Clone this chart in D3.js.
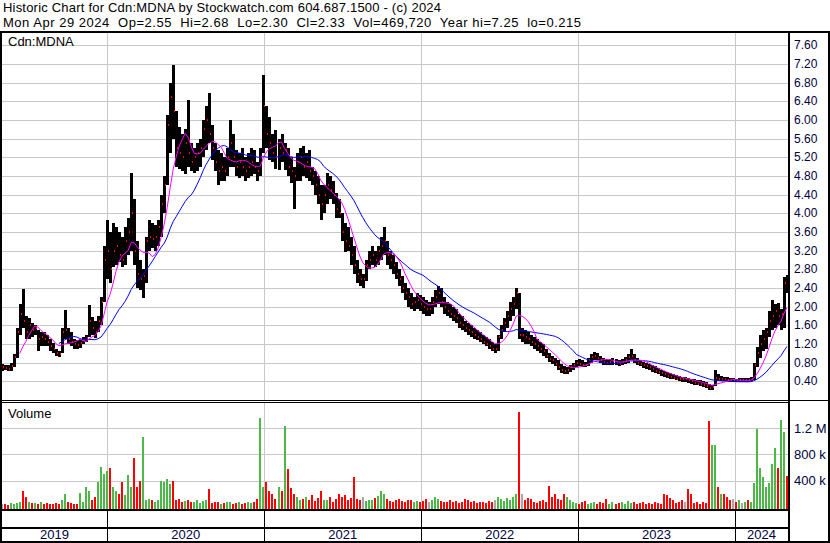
<!DOCTYPE html>
<html>
<head>
<title>Cdn:MDNA historic chart</title>
<style>
body { margin: 0; background: #fff; }
text { font-family: Arial, "Liberation Sans", sans-serif; white-space: pre; }
.grid line { stroke: #c8c8c8; stroke-width: 1; shape-rendering: crispEdges; }
.frame line { stroke: #000; shape-rendering: crispEdges; }
.axis text { fill: #000040; }
</style>
</head>
<body>
<div id="chart"></div>
<script src="https://cdn.jsdelivr.net/npm/d3@7"></script>
<script>
// weekly bars, first week starts Mon 2019-04-29
var startDate = "2019-04-29";

var hi = [
 .78,.76,.74,.80,.98,1.55,2.05,2.38,1.80,1.75,
 1.65,1.60,1.50,1.45,1.45,1.40,1.30,1.22,1.10,1.05,
 1.55,1.93,1.55,1.45,1.30,1.28,1.30,1.35,1.40,2.03,
 1.78,1.70,1.80,2.20,3.30,3.86,3.60,3.80,3.70,3.60,
 3.50,3.70,3.90,4.86,4.30,3.40,3.00,2.80,3.50,3.85,
 3.80,3.75,3.85,4.40,4.80,6.10,6.80,7.18,6.20,5.85,
 5.70,5.80,6.43,5.50,5.40,5.50,5.60,6.00,6.30,6.58,
 5.90,5.50,5.35,5.30,5.20,5.40,6.00,5.70,5.35,5.30,
 5.40,5.20,5.30,5.40,5.35,5.10,5.40,6.96,6.30,6.07,
 5.70,5.78,5.60,5.70,5.50,5.40,5.20,5.00,5.30,5.40,
 5.45,5.30,5.35,5.00,4.90,4.80,4.60,4.60,4.86,4.80,
 4.70,4.43,4.30,4.00,3.80,3.70,3.50,3.30,3.00,2.80,
 2.70,3.00,3.20,3.30,3.20,3.30,3.50,3.70,3.40,3.20,
 3.10,2.95,2.80,2.65,2.50,2.40,2.30,2.20,2.30,2.25,
 2.20,2.15,2.10,2.20,2.35,2.45,2.40,2.20,2.10,2.05,
 2.00,1.95,1.85,1.80,1.70,1.65,1.60,1.55,1.50,1.45,
 1.40,1.35,1.30,1.25,1.20,1.40,1.60,1.75,1.90,2.10,
 2.20,2.40,2.30,1.55,1.50,1.45,1.40,1.35,1.30,1.25,
 1.20,1.10,1.00,0.95,0.90,0.85,0.78,0.72,0.70,0.75,
 0.80,0.85,0.88,0.85,0.82,0.90,0.98,1.02,1.00,0.95,
 0.90,0.88,0.88,0.90,0.88,0.86,0.88,0.92,0.98,1.10,
 0.98,0.90,0.86,0.82,0.80,0.78,0.75,0.72,0.68,0.65,
 0.62,0.60,0.57,0.55,0.53,0.51,0.49,0.50,0.48,0.45,
 0.44,0.42,0.42,0.40,0.38,0.35,0.33,0.64,0.55,0.52,
 0.50,0.50,0.48,0.47,0.46,0.48,0.47,0.48,0.47,0.50,
 0.80,1.14,1.40,1.50,1.55,1.90,2.14,2.05,2.08,1.95,2.63,2.68
];
var lo = [
 .62,.64,.62,.62,.70,.90,1.40,1.55,1.30,1.30,
 1.35,1.40,1.05,1.15,1.15,1.15,1.05,1.00,0.95,0.92,
 1.00,1.30,1.20,1.15,1.10,1.10,1.12,1.20,1.24,1.35,
 1.40,1.33,1.45,1.60,2.10,2.60,2.50,2.85,2.90,2.95,
 2.85,2.90,3.10,3.20,2.90,2.40,2.35,2.18,2.50,3.20,
 3.25,3.20,3.30,3.50,4.00,4.60,5.30,5.60,5.00,4.95,
 4.90,4.85,5.00,4.90,4.86,4.90,5.00,5.20,5.35,5.50,
 5.14,4.90,4.60,4.70,4.70,4.80,5.00,5.00,4.80,4.75,
 4.80,4.70,4.75,4.80,4.85,4.70,4.80,5.30,5.40,5.14,
 5.10,4.95,4.93,5.10,4.93,4.80,4.64,4.10,4.70,4.70,
 4.80,4.75,4.70,4.60,4.40,4.20,3.86,4.00,4.20,4.30,
 4.20,3.90,3.90,3.40,3.17,3.20,2.90,2.70,2.50,2.45,
 2.40,2.55,2.80,2.90,2.85,2.90,3.00,3.10,2.90,2.80,
 2.70,2.60,2.45,2.30,2.15,2.00,1.95,1.90,1.95,1.90,
 1.85,1.80,1.80,1.85,2.00,2.05,2.00,1.85,1.80,1.75,
 1.70,1.65,1.55,1.50,1.45,1.40,1.35,1.30,1.28,1.25,
 1.20,1.15,1.10,1.05,1.00,1.05,1.30,1.45,1.55,1.70,
 1.80,1.95,1.30,1.25,1.20,1.20,1.15,1.10,1.05,1.00,
 0.95,0.90,0.82,0.78,0.72,0.65,0.58,0.55,0.55,0.60,
 0.65,0.70,0.72,0.70,0.70,0.72,0.80,0.85,0.85,0.80,
 0.75,0.74,0.74,0.76,0.74,0.72,0.74,0.77,0.80,0.85,
 0.80,0.76,0.72,0.68,0.66,0.64,0.60,0.57,0.55,0.52,
 0.50,0.48,0.46,0.44,0.42,0.41,0.39,0.38,0.36,0.34,
 0.33,0.32,0.30,0.28,0.25,0.22,0.21,0.30,0.40,0.40,
 0.40,0.38,0.38,0.38,0.38,0.38,0.38,0.39,0.39,0.40,
 0.43,0.70,0.90,1.05,1.10,1.35,1.50,1.55,1.60,1.50,1.55,2.30
];
var cl = [
 .70,.68,.66,.72,.92,1.45,1.85,1.70,1.45,1.60,
 1.50,1.55,1.30,1.35,1.30,1.25,1.15,1.10,1.00,0.98,
 1.45,1.50,1.30,1.25,1.20,1.18,1.22,1.28,1.32,1.70,
 1.55,1.45,1.70,2.10,3.00,3.20,2.80,3.20,3.30,3.10,
 3.00,3.40,3.60,4.00,3.20,2.70,2.60,2.65,3.40,3.50,
 3.45,3.50,3.70,4.20,4.60,5.90,6.50,6.20,5.40,5.30,
 5.20,5.50,5.30,5.10,5.20,5.30,5.40,5.80,6.00,5.70,
 5.40,5.10,4.90,5.00,4.90,5.20,5.50,5.20,5.00,5.10,
 5.00,4.90,5.00,5.10,5.00,4.90,5.20,6.30,5.70,5.50,
 5.30,5.20,5.40,5.30,5.35,5.00,4.90,4.80,5.10,5.20,
 5.00,5.10,4.90,4.80,4.60,4.40,4.20,4.40,4.60,4.50,
 4.40,4.10,4.00,3.60,3.40,3.30,3.10,2.90,2.70,2.60,
 2.60,2.90,3.00,3.10,3.00,3.20,3.30,3.40,3.10,3.00,
 2.90,2.70,2.60,2.40,2.30,2.20,2.05,2.10,2.15,2.05,
 2.00,1.95,1.95,2.10,2.20,2.30,2.10,2.00,1.90,1.85,
 1.80,1.75,1.65,1.60,1.55,1.50,1.45,1.40,1.35,1.30,
 1.25,1.20,1.15,1.10,1.10,1.35,1.50,1.65,1.80,1.95,
 2.05,2.30,1.40,1.40,1.35,1.30,1.25,1.20,1.15,1.10,
 1.05,0.95,0.88,0.85,0.78,0.70,0.65,0.62,0.65,0.70,
 0.75,0.80,0.78,0.76,0.75,0.85,0.92,0.95,0.90,0.85,
 0.82,0.80,0.82,0.84,0.80,0.78,0.82,0.86,0.92,0.95,
 0.85,0.80,0.78,0.74,0.72,0.70,0.66,0.62,0.60,0.57,
 0.55,0.52,0.50,0.48,0.46,0.45,0.44,0.44,0.42,0.40,
 0.36,0.35,0.34,0.32,0.30,0.26,0.28,0.48,0.45,0.46,
 0.44,0.43,0.42,0.42,0.41,0.42,0.42,0.43,0.42,0.45,
 0.75,1.00,1.20,1.30,1.45,1.70,1.80,1.90,1.80,1.85,2.50,2.33
];
// volume, thousands of shares
var vol = [
 40,50,30,60,50,60,80,250,150,80,
 60,60,50,70,40,60,50,40,60,50,
 100,200,80,60,50,40,215,80,300,250,
 100,150,380,615,500,540,600,300,250,200,
 380,180,490,300,740,300,400,1060,100,120,
 100,80,100,400,380,420,350,400,100,120,
 80,90,110,70,80,100,60,90,110,280,
 60,70,80,50,60,70,80,50,60,70,
 50,60,80,60,70,120,1350,300,380,250,
 200,120,300,250,1230,570,290,200,150,100,
 120,150,100,180,90,130,250,110,100,150,
 80,120,200,150,180,100,140,450,120,100,
 150,90,110,100,130,160,250,200,120,90,
 80,100,120,90,70,110,100,80,90,70,
 90,120,80,100,150,120,90,70,80,100,
 70,90,60,80,120,100,70,90,60,80,
 70,60,90,80,100,150,120,90,130,100,
 150,200,1450,200,100,130,120,80,60,90,
 100,80,320,150,200,120,100,200,150,100,
 80,60,50,70,90,40,60,80,50,70,
 60,120,50,70,40,60,80,50,90,60,
 70,50,60,80,40,60,50,70,60,50,
 200,180,130,100,60,80,100,80,280,200,
 60,80,50,70,60,1300,940,940,300,200,
 200,150,100,120,80,100,60,80,100,70,
 370,1180,600,460,300,370,650,900,600,1320,1140,470
];

var priceTicks = [0.4,0.8,1.2,1.6,2.0,2.4,2.8,3.2,3.6,4.0,4.4,4.8,5.2,5.6,6.0,6.4,6.8,7.2,7.6];
var volTicks = [400, 800, 1200];
var volTickLabels = ["400 k", "800 k", "1.2 M"];
var years = [2019, 2020, 2021, 2022, 2023, 2024];
var titleLines = [
  "Historic Chart for Cdn:MDNA by Stockwatch.com 604.687.1500 - (c) 2024",
  "Mon Apr 29 2024  Op=2.55  Hi=2.68  Lo=2.30  Cl=2.33  Vol=469,720  Year hi=7.25  lo=0.215"
];
var titleWidths = [438, 578];
var fastLen = 7, slowLen = 20;   // moving averages, in weeks

var dims = { width: 830, height: 543 };
var plot = { left: 2, right: 788, top: 33, priceBottom: 400, volTop: 403, volBottom: 509 };

var parse = d3.utcParse("%Y-%m-%d");
var start = parse(startDate);
var data = hi.map(function(h, i) {
    return { date: d3.utcDay.offset(start, 7 * i + 2), hi: h, lo: lo[i], cl: cl[i], vol: vol[i],
             prev: i > 0 ? cl[i - 1] : cl[i] };
});

function sma(n) {
    var out = [];
    for (var i = n - 1; i < data.length; i++) {
        var s = 0;
        for (var j = i - n + 1; j <= i; j++) s += data[j].cl;
        out.push({ date: data[i].date, v: s / n });
    }
    return out;
}

var x = d3.scaleUtc()
    .domain([parse("2020-01-01"), parse("2024-01-01")])
    .range([107, 735]);
var y = d3.scaleLinear().domain([0, 7.6]).range([plot.priceBottom, 45.3]);
var yv = d3.scaleLinear().domain([0, 1200]).range([507, 428]);

var svg = d3.select("#chart").append("svg")
    .attr("width", dims.width)
    .attr("height", dims.height);

// grid
var grid = svg.append("g").attr("class", "grid");
grid.selectAll("line.p").data(priceTicks).enter().append("line")
    .attr("x1", plot.left).attr("x2", plot.right)
    .attr("y1", function(d) { return Math.round(y(d)) + 0.5; })
    .attr("y2", function(d) { return Math.round(y(d)) + 0.5; });
grid.selectAll("line.v").data(volTicks).enter().append("line")
    .attr("x1", plot.left).attr("x2", plot.right)
    .attr("y1", function(d) { return Math.round(yv(d)) + 0.5; })
    .attr("y2", function(d) { return Math.round(yv(d)) + 0.5; });
var yearStarts = years.slice(1).map(function(yr) { return parse(yr + "-01-01"); });
yearStarts.forEach(function(d) {
    var xx = Math.round(x(d)) + 0.5;
    grid.append("line").attr("x1", xx).attr("x2", xx).attr("y1", plot.top).attr("y2", plot.priceBottom);
    grid.append("line").attr("x1", xx).attr("x2", xx).attr("y1", plot.volTop).attr("y2", plot.volBottom);
});

// price bars: black high-low, red close tick
var gbars = svg.append("g");
gbars.selectAll("rect.bar").data(data).enter().append("rect")
    .attr("shape-rendering", "crispEdges")
    .attr("x", function(d) { return Math.round(x(d.date)) - 1; })
    .attr("width", 3)
    .attr("y", function(d) { return y(d.hi); })
    .attr("height", function(d) { return Math.max(1, y(d.lo) - y(d.hi)); })
    .attr("fill", "#000");
gbars.selectAll("rect.close").data(data).enter().append("rect")
    .attr("shape-rendering", "crispEdges")
    .attr("x", function(d) { return Math.round(x(d.date)) + 1; })
    .attr("width", 1)
    .attr("y", function(d) { return y(d.cl) - 1; })
    .attr("height", 2)
    .attr("fill", "#ff0000");

// moving averages
var line = d3.line()
    .x(function(d) { return x(d.date); })
    .y(function(d) { return y(d.v); });
svg.append("path").datum(sma(slowLen))
    .attr("d", line).attr("fill", "none").attr("stroke", "#0000ff").attr("stroke-width", 1);
svg.append("path").datum(sma(fastLen))
    .attr("d", line).attr("fill", "none").attr("stroke", "#ff00ff").attr("stroke-width", 1);

// volume bars
svg.append("g").selectAll("rect").data(data).enter().append("rect")
    .attr("shape-rendering", "crispEdges")
    .attr("x", function(d) { return Math.round(x(d.date)) - 1; })
    .attr("width", 2)
    .attr("y", function(d) { return yv(d.vol); })
    .attr("height", function(d) { return plot.volBottom - yv(d.vol); })
    .attr("fill", function(d) {
        return d.cl > d.prev ? "#4cb848" : (d.cl < d.prev ? "#ff0000" : "#a8a8a8");
    });

// frame
var frame = svg.append("g").attr("class", "frame");
function hline(y0, x0, x1, w) {
    frame.append("line").attr("x1", x0).attr("x2", x1).attr("y1", y0).attr("y2", y0).attr("stroke-width", w);
}
function vline(x0, y0, y1, w) {
    frame.append("line").attr("x1", x0).attr("x2", x0).attr("y1", y0).attr("y2", y1).attr("stroke-width", w);
}
hline(32, 0, dims.width, 2);
hline(400.5, 0, dims.width, 1);
hline(402.5, 0, plot.right, 1);
hline(510, 0, plot.right, 2);
hline(527.5, 0, plot.right, 2);
hline(542, 0, dims.width, 2);
vline(1, 31, dims.height, 2);
vline(789, 31, dims.height, 2);
vline(829, 31, dims.height, 2);
yearStarts.forEach(function(d) {
    vline(Math.round(x(d)) + 0.5, 510, 542, 1);
});

// axis labels
var axis = svg.append("g").attr("class", "axis");
axis.selectAll("text.p").data(priceTicks).enter().append("text")
    .attr("x", 794)
    .attr("y", function(d) { return y(d) + 4; })
    .attr("font-size", 12)
    .text(function(d) { return d.toFixed(2); });
axis.selectAll("text.v").data(volTicks).enter().append("text")
    .attr("x", 794)
    .attr("y", function(d) { return yv(d) + 4.5; })
    .attr("font-size", 13)
    .text(function(d, i) { return volTickLabels[i]; });
var bounds = [plot.left].concat(yearStarts.map(x), [plot.right]);
axis.selectAll("text.yr").data(years).enter().append("text")
    .attr("x", function(d, i) { return (bounds[i] + bounds[i + 1]) / 2; })
    .attr("y", 539)
    .attr("text-anchor", "middle")
    .attr("font-size", 13)
    .text(function(d) { return d; });

// titles
svg.selectAll("text.title").data(titleLines).enter().append("text")
    .attr("x", 3)
    .attr("y", function(d, i) { return 12 + i * 15; })
    .attr("font-size", 13)
    .attr("textLength", function(d, i) { return titleWidths[i]; })
    .attr("lengthAdjust", "spacing")
    .attr("fill", "#000")
    .text(function(d) { return d; });
svg.append("text").attr("x", 8).attr("y", 46).attr("font-size", 13).text("Cdn:MDNA");
svg.append("text").attr("x", 8).attr("y", 418).attr("font-size", 13).text("Volume");
</script>
</body>
</html>
